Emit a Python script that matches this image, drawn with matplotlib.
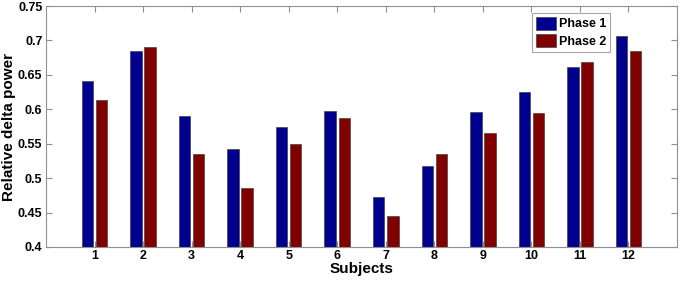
import matplotlib
matplotlib.use("Agg")
import matplotlib.pyplot as plt
import numpy as np

subjects = ["1", "2", "3", "4", "5", "6", "7", "8", "9", "10", "11", "12"]
phase1 = [0.641, 0.685, 0.590, 0.542, 0.574, 0.598, 0.473, 0.517, 0.596, 0.625, 0.661, 0.707]
phase2 = [0.613, 0.690, 0.535, 0.486, 0.549, 0.588, 0.445, 0.535, 0.565, 0.594, 0.668, 0.685]
yticks = [0.4, 0.45, 0.5, 0.55, 0.6, 0.65, 0.7, 0.75]
ytick_labels = ["0.4", "0.45", "0.5", "0.55", "0.6", "0.65", "0.7", "0.75"]

plt.rcParams['font.family'] = ['Liberation Sans', 'DejaVu Sans']
plt.rcParams['font.weight'] = 'bold'

fig = plt.figure(figsize=(6.8, 2.81), dpi=100)
ax = fig.add_axes([0.0676, 0.121, 0.928, 0.8576])

x = np.arange(1, len(subjects) + 1)
w = 0.235
off = 0.145
ax.bar(x - off, phase1, width=w, bottom=0, color='#00008F', edgecolor='#303030',
       linewidth=0.4, label='Phase 1')
ax.bar(x + off, phase2, width=w, bottom=0, color='#800000', edgecolor='#303030',
       linewidth=0.4, label='Phase 2')

ax.set_xlim(0, 13)
ax.set_ylim(0.4, 0.75)
ax.set_xticks(x)
ax.set_xticklabels(subjects, fontsize=9, fontweight='bold')
ax.set_yticks(yticks)
ax.set_yticklabels(ytick_labels, fontsize=9, fontweight='bold')
ax.tick_params(direction='in', length=4, width=0.8, color='#909090',
               top=True, right=True, pad=2.5)
for s in ax.spines.values():
    s.set_color('#909090')
    s.set_linewidth(0.8)

ax.set_xlabel('Subjects', fontsize=11, fontweight='bold', labelpad=0)
ax.set_ylabel('Relative delta power', fontsize=11, fontweight='bold', labelpad=1)

leg = ax.legend(loc='upper left', bbox_to_anchor=(0.770, 0.971), fontsize=9,
                frameon=True, fancybox=False, edgecolor='#909090',
                handlelength=1.6, handleheight=1.2, handletextpad=0.3,
                borderpad=0.3, labelspacing=0.3, borderaxespad=0)
leg.get_frame().set_linewidth(0.8)
for t in leg.get_texts():
    t.set_fontweight('bold')

fig.savefig('out.png', dpi=100)
